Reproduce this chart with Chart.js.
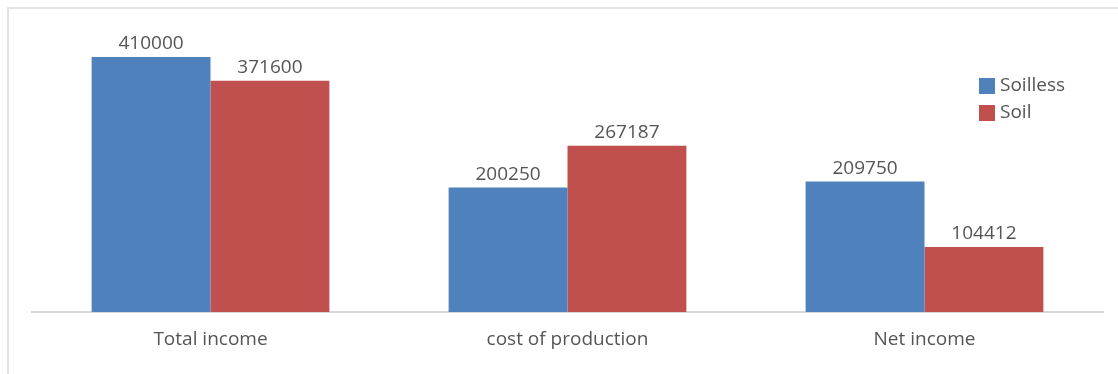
<!DOCTYPE html>
<html>
<head>
<meta charset="utf-8">
<script src="https://cdn.jsdelivr.net/npm/chart.js@4"></script>
<style>
  html, body { margin: 0; padding: 0; background: #fff; }
  #wrap { position: relative; width: 1118px; height: 374px; }
  #frame {
    position: absolute; left: 7px; top: 7px; right: 0; bottom: -4px;
    border-top: 2px solid #e4e4e4; border-left: 2px solid #e4e4e4;
  }
  canvas { position: absolute; left: 0; top: 0; }
</style>
</head>
<body>
<div id="wrap">
  <div id="frame"></div>
  <canvas id="chart" width="1118" height="374"></canvas>
</div>
<script>
const categories = ['Total income', 'cost of production', 'Net income'];
const soilless = [410000, 200250, 209750];
const soil = [371600, 267187, 104412];

const textColor = '#555555';
const fontFamily = '"Open Sans", "Liberation Sans", sans-serif';

// numbers over each bar
const valueLabels = {
    id: 'valueLabels',
    afterDatasetsDraw(chart) {
        const ctx = chart.ctx;
        ctx.save();
        ctx.font = '19px ' + fontFamily;
        ctx.fillStyle = textColor;
        ctx.textAlign = 'center';
        ctx.textBaseline = 'middle';
        chart.data.datasets.forEach((ds, i) => {
            chart.getDatasetMeta(i).data.forEach((bar, j) => {
                ctx.fillText(ds.data[j], bar.x, bar.y - 13);
            });
        });
        ctx.restore();
    }
};

// legend box on the right, drawn over the plot area
const sideLegend = {
    id: 'sideLegend',
    afterDraw(chart) {
        const ctx = chart.ctx;
        ctx.save();
        ctx.font = '19px ' + fontFamily;
        ctx.textBaseline = 'middle';
        chart.data.datasets.forEach((ds, i) => {
            const y = 86 + i * 27;
            ctx.fillStyle = ds.backgroundColor;
            ctx.fillRect(979, y - 8, 16, 16);
            ctx.fillStyle = textColor;
            ctx.fillText(ds.label, 1000, y);
        });
        ctx.restore();
    }
};

new Chart(document.getElementById('chart'), {
    type: 'bar',
    data: {
        labels: categories,
        datasets: [
            { label: 'Soilless', data: soilless, backgroundColor: '#4F81BD' },
            { label: 'Soil', data: soil, backgroundColor: '#C0504D' }
        ]
    },
    options: {
        responsive: false,
        animation: false,
        layout: { padding: { top: 32, left: 32, right: 15, bottom: 0 } },
        datasets: { bar: { barPercentage: 1, categoryPercentage: 0.666 } },
        plugins: { legend: { display: false }, tooltip: { enabled: false } },
        scales: {
            x: {
                grid: { display: false, drawTicks: false },
                border: { display: true, color: '#d9d9d9', width: 2 },
                ticks: { color: textColor, font: { family: fontFamily, size: 19 }, padding: 16 },
                afterFit(scale) { scale.height = 62; }
            },
            y: {
                display: false,
                min: 0,
                max: 450000
            }
        }
    },
    plugins: [valueLabels, sideLegend]
});
</script>
</body>
</html>
